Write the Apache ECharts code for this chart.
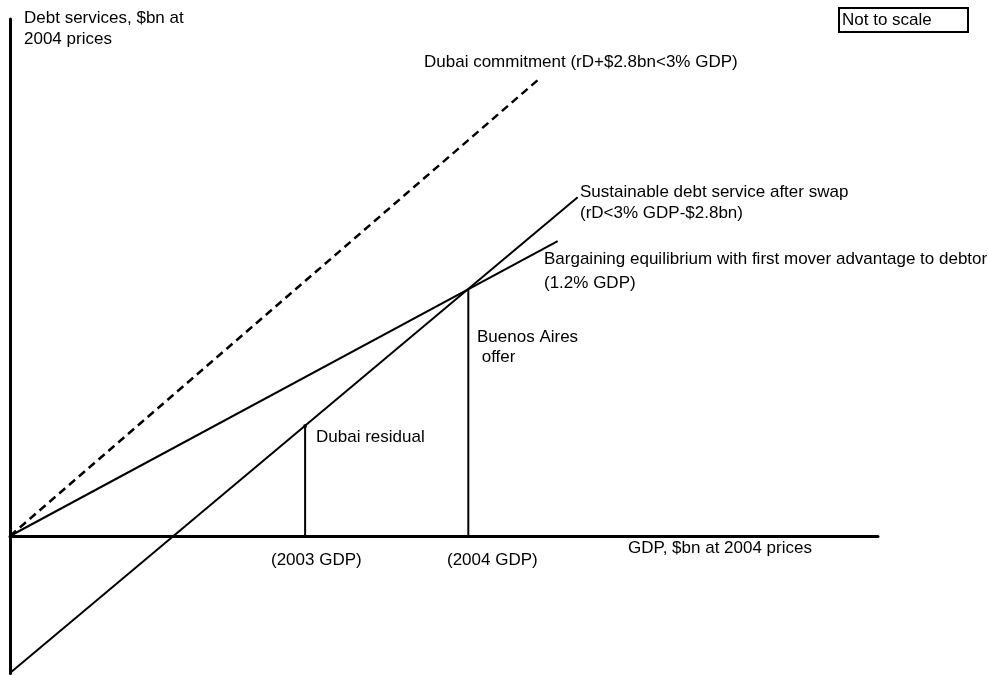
<!DOCTYPE html>
<html>
<head>
<meta charset="utf-8">
<script src="https://cdn.jsdelivr.net/npm/echarts@6/dist/echarts.min.js"></script>
<style>html,body{margin:0;padding:0;background:#fff;}#chart{width:988px;height:675px;}</style>
</head>
<body>
<div id="chart"></div>
<script>
// Schematic units (not to scale): x = GDP, y = debt service
const dubaiCommitment = [[0, 0], [61.1, 83.3]];
const sustainableDebt = [[0, -24.9], [65.4, 61.6]];
const bargaining = [[0, 0], [63.1, 53.6]];
const gdp2003 = 34.0;
const gdp2004 = 52.8;
const dubaiResidualLevel = 20.0;
const buenosAiresLevel = 44.9;
const dubaiResidual = [[gdp2003, 0], [gdp2003, dubaiResidualLevel]];
const buenosAires = [[gdp2004, 0], [gdp2004, buenosAiresLevel]];

const FONT = '17px "Liberation Sans", Arial, sans-serif';
function txt(text, left, top, lh) {
  return {type: 'text', left: left, top: top, z: 100,
    style: {text: text, font: FONT, fill: '#000', lineHeight: lh || 21}};
}
const lineStyle = {color: '#000', width: 2};

const chart = echarts.init(document.getElementById('chart'));
chart.setOption({
  animation: false,
  backgroundColor: '#fff',
  grid: {left: 10, top: 19, width: 868, height: 654.5},
  xAxis: {type: 'value', min: 0, max: 100,
    axisLine: {show: true, onZero: true, lineStyle: {color: '#000', width: 3}},
    axisTick: {show: false}, axisLabel: {show: false}, splitLine: {show: false}},
  yAxis: {type: 'value', min: -25, max: 94,
    axisLine: {show: true, onZero: false, lineStyle: {color: '#000', width: 3}},
    axisTick: {show: false}, axisLabel: {show: false}, splitLine: {show: false}},
  series: [
    {type: 'line', data: dubaiCommitment, symbol: 'none',
      lineStyle: {color: '#000', width: 2.5, type: [8, 5]}},
    {type: 'line', data: sustainableDebt, symbol: 'none', lineStyle: lineStyle},
    {type: 'line', data: bargaining, symbol: 'none', lineStyle: lineStyle},
    {type: 'line', data: dubaiResidual, symbol: 'none', lineStyle: lineStyle},
    {type: 'line', data: buenosAires, symbol: 'none', lineStyle: lineStyle},
    {type: 'scatter', data: [[gdp2003, dubaiResidualLevel]], symbolSize: 4,
      itemStyle: {color: '#000'}}
  ],
  graphic: [
    txt('Debt services, $bn at\n2004 prices', 24, 8),
    {type: 'rect', shape: {x: 839, y: 8, width: 129, height: 24}, z: 90,
      style: {fill: '#fff', stroke: '#000', lineWidth: 2}},
    txt('Not to scale', 842, 10),
    txt('Dubai commitment (rD+$2.8bn<3% GDP)', 424, 52),
    txt('Sustainable debt service after swap\n(rD<3% GDP-$2.8bn)', 580, 182),
    txt('Bargaining equilibrium with first mover advantage to debtor\n(1.2% GDP)', 544, 247, 24),
    txt('Buenos Aires\n offer', 477, 327, 20),
    txt('Dubai residual', 316, 427),
    txt('(2003 GDP)', 271, 550),
    txt('(2004 GDP)', 447, 550),
    txt('GDP, $bn at 2004 prices', 628, 538)
  ]
});
</script>
</body>
</html>
